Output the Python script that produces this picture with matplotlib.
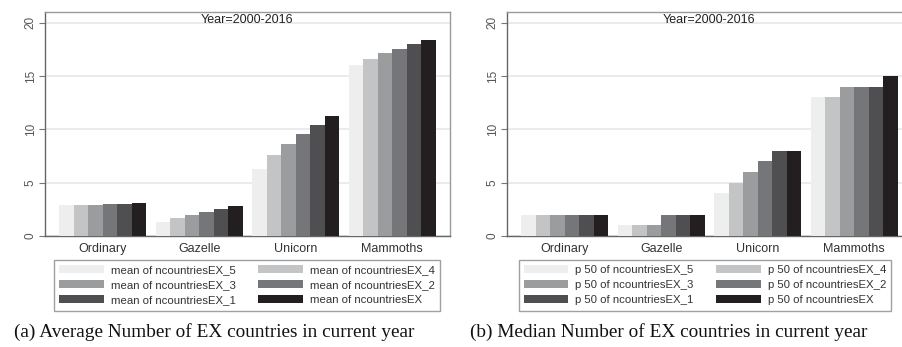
import numpy as np
import matplotlib
matplotlib.use("Agg")
import matplotlib.pyplot as plt

# ---------------- DATA ----------------
categories = ["Ordinary", "Gazelle", "Unicorn", "Mammoths"]

mean_labels = ["mean of ncountriesEX_5", "mean of ncountriesEX_4",
               "mean of ncountriesEX_3", "mean of ncountriesEX_2",
               "mean of ncountriesEX_1", "mean of ncountriesEX"]
p50_labels = ["p 50 of ncountriesEX_5", "p 50 of ncountriesEX_4",
              "p 50 of ncountriesEX_3", "p 50 of ncountriesEX_2",
              "p 50 of ncountriesEX_1", "p 50 of ncountriesEX"]

# one list per series, values for Ordinary, Gazelle, Unicorn, Mammoths
mean_ex5 = [2.90, 1.35, 6.30, 16.00]
mean_ex4 = [2.90, 1.65, 7.55, 16.60]
mean_ex3 = [2.95, 1.95, 8.65, 17.15]
mean_ex2 = [3.00, 2.25, 9.60, 17.55]
mean_ex1 = [3.02, 2.55, 10.45, 18.03]
mean_ex0 = [3.05, 2.80, 11.25, 18.40]

p50_ex5 = [2, 1, 4, 13]
p50_ex4 = [2, 1, 5, 13]
p50_ex3 = [2, 1, 6, 14]
p50_ex2 = [2, 2, 7, 14]
p50_ex1 = [2, 2, 8, 14]
p50_ex0 = [2, 2, 8, 15]

colors = ["#eeeeee", "#c3c4c6", "#9b9c9e", "#75767a", "#4f4f52", "#231f20"]

captions = ["(a) Average Number of EX countries in current year",
            "(b) Median Number of EX countries in current year"]

plt.rcParams["font.family"] = ["Liberation Sans", "DejaVu Sans"]

fig = plt.figure(figsize=(9.03, 3.47), dpi=100)

W = 405 / 903
H = 224 / 347
B = 111 / 347
ax1 = fig.add_axes([45 / 903, B, W, H])
ax2 = fig.add_axes([507 / 903, B, W, H])


def draw_panel(ax, series, labels, leg_x):
    x = np.arange(len(categories))
    bw = 0.15
    n = len(series)
    bars = []
    for i, vals in enumerate(series):
        b = ax.bar(x + (i - (n - 1) / 2) * bw, vals, width=bw, color=colors[i],
                   label=labels[i], zorder=3, linewidth=0)
        bars.append(b)

    ax.set_xlim(-0.6, 3.6)
    ax.set_ylim(0, 21)
    ax.set_yticks([0, 5, 10, 15, 20])
    ax.set_xticks(x)
    ax.set_xticklabels(categories)
    ax.tick_params(axis="x", length=0, pad=5, labelsize=9, labelcolor="#333333")
    ax.tick_params(axis="y", length=4, width=0.8, color="#777777", pad=2,
                   labelsize=8.5, labelcolor="#555555")
    for lab in ax.get_yticklabels():
        lab.set_rotation(90)
        lab.set_va("center")
    ax.grid(axis="y", color="#e8e8e8", linewidth=1.2, zorder=0)

    for side in ["top", "right"]:
        ax.spines[side].set_color("#999999")
        ax.spines[side].set_linewidth(1.0)
    for side in ["left", "bottom"]:
        ax.spines[side].set_color("#666666")
        ax.spines[side].set_linewidth(1.0)

    ax.text(0.5, 0.965, "Year=2000-2016", transform=ax.transAxes,
            ha="center", va="center", fontsize=9, color="#222222")

    # legend fills row by row: reorder for matplotlib's column filling
    order = [0, 2, 4, 1, 3, 5]
    leg = ax.legend([bars[i] for i in order], [labels[i] for i in order],
                    loc="upper center", bbox_to_anchor=(leg_x, 1 - 260 / 347),
                    bbox_transform=fig.transFigure, ncol=2, fontsize=8.2,
                    frameon=True, fancybox=False, handlelength=3.9,
                    handleheight=0.7, labelspacing=0.45, handletextpad=0.6,
                    columnspacing=2.0, borderpad=0.45, borderaxespad=0)
    leg.get_frame().set_edgecolor("#888888")
    leg.get_frame().set_linewidth(1.0)
    for t in leg.get_texts():
        t.set_color("#333333")


draw_panel(ax1, [mean_ex5, mean_ex4, mean_ex3, mean_ex2, mean_ex1, mean_ex0],
           mean_labels, 247 / 903)
draw_panel(ax2, [p50_ex5, p50_ex4, p50_ex3, p50_ex2, p50_ex1, p50_ex0],
           p50_labels, 705 / 903)

fig.text(214 / 903, 1 - 332 / 347, captions[0], ha="center", va="center",
         fontsize=13.9, family=["Liberation Serif", "DejaVu Serif"], color="#111111")
fig.text(669 / 903, 1 - 332 / 347, captions[1], ha="center", va="center",
         fontsize=13.9, family=["Liberation Serif", "DejaVu Serif"], color="#111111")

fig.savefig("out.png", dpi=100)
